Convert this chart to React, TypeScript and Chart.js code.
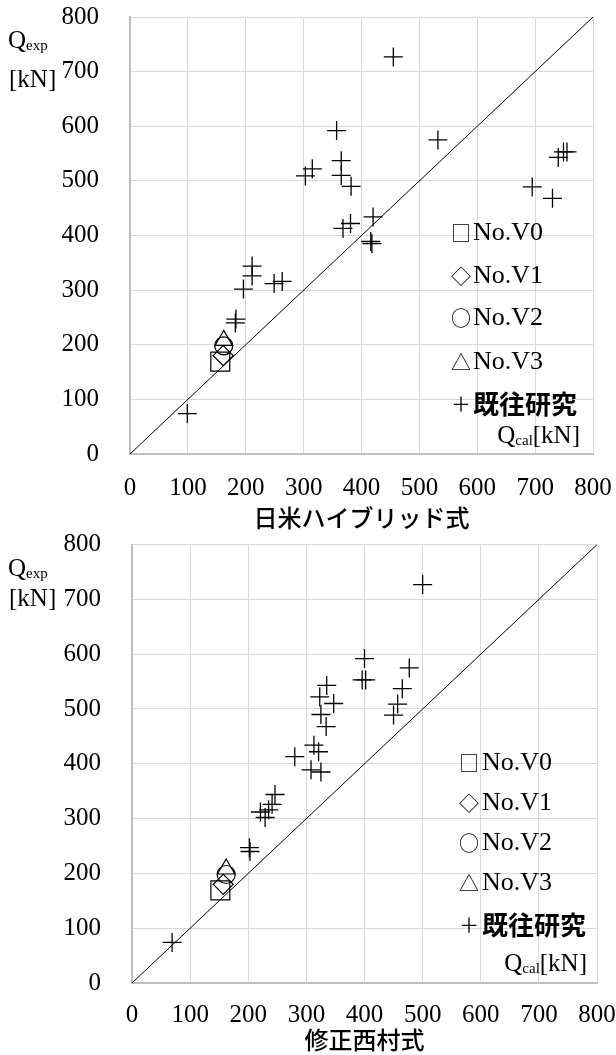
import React, { useEffect, useRef } from "react";
import { Chart, registerables } from "chart.js";
Chart.register(...registerables);

// Experimental shear strength Q_exp [kN] of previous studies (既往研究)
const pastQexp = [74, 247, 240, 302, 344, 326, 312, 316, 509, 522, 592, 537, 510, 490, 413, 422, 434, 389, 385, 727, 575, 489, 468, 543, 553, 553];
// Calculated strength, 日米ハイブリッド式
const pastQcalHybrid = [99, 183, 182, 196, 211, 211, 249, 263, 303, 315, 357, 365, 365, 382, 368, 381, 420, 416, 418, 455, 532, 695, 730, 740, 749, 755];
// Calculated strength, 修正西村式
const pastQcalNishimura = [69, 202, 203, 229, 246, 241, 221, 235, 457, 323, 400, 465, 347, 325, 280, 321, 313, 308, 325, 500, 477, 450, 334, 335, 396, 402];

// Specimens No.V0 - No.V3
const specimenLabels = ["No.V0", "No.V1", "No.V2", "No.V3"];
const specimenSymbols = ["□", "◇", "○", "△"];
const specimenStyles = ["rect", "rectRot", "circle", "triangle"];
const specimenRadius = [13.4, 10, 9, 10];
const specimenQexp = [169, 180, 198, 208];
const specimenQcalHybrid = [156, 161, 162, 162];
const specimenQcalNishimura = [152, 157, 162, 162];

const pastLabel = "既往研究";
const pastSymbol = "＋";
const axisTicks = [0, 100, 200, 300, 400, 500, 600, 700, 800];
const titleHybrid = "日米ハイブリッド式";
const titleNishimura = "修正西村式";

const SERIF = '"Liberation Serif", "Times New Roman", serif';
const GOTHIC = '"Noto Sans CJK JP", "Noto Sans", sans-serif';

type Cfg = {
  top: number;
  height: number;
  area: { left: number; right: number; top: number; bottom: number };
  calX: number[];
  specX: number[];
  title: string;
  titlePad: number;
  xTickPad: number;
  legend: { symX: number; textX: number; rows: number[]; qcalRight: number; qcalBase: number };
  qexp: { qBase: number; knBase: number };
};

function ScatterPanel({ cfg }: { cfg: Cfg }) {
  const ref = useRef<HTMLCanvasElement | null>(null);
  useEffect(() => {
    const canvas = ref.current;
    if (!canvas) return;
    const { area, top, height } = cfg;

    const overlay = {
      id: "overlay",
      afterDraw(chart: any) {
        const ctx = chart.ctx as CanvasRenderingContext2D;
        ctx.save();
        ctx.fillStyle = "#000";
        ctx.textBaseline = "middle";
        ctx.textAlign = "left";
        const L = cfg.legend;
        const syms = [...specimenSymbols, pastSymbol];
        const labels = [...specimenLabels, pastLabel];
        for (let i = 0; i < syms.length; i++) {
          const y = L.rows[i] - top;
          ctx.font = `20px ${GOTHIC}`;
          ctx.fillText(syms[i], L.symX, y);
          ctx.font = i < 4 ? `26px ${SERIF}` : `bold 26px ${GOTHIC}`;
          ctx.fillText(labels[i], L.textX, y);
        }
        // Q_cal[kN]
        ctx.textBaseline = "alphabetic";
        const big = `25px ${SERIF}`;
        const small = `15px ${SERIF}`;
        ctx.font = big;
        const wKN = ctx.measureText("[kN]").width;
        const wQ = ctx.measureText("Q").width;
        ctx.font = small;
        const wCal = ctx.measureText("cal").width;
        let x = L.qcalRight - wKN - wCal - wQ;
        const b = L.qcalBase - top;
        ctx.font = big;
        ctx.fillText("Q", x, b);
        x += wQ;
        ctx.font = small;
        ctx.fillText("cal", x, b + 2);
        x += wCal;
        ctx.font = big;
        ctx.fillText("[kN]", x, b);
        // Q_exp [kN]
        const qb = cfg.qexp.qBase - top;
        ctx.font = big;
        ctx.fillText("Q", 8, qb);
        const wq2 = ctx.measureText("Q").width;
        ctx.font = small;
        ctx.fillText("exp", 8 + wq2, qb + 2);
        ctx.font = big;
        ctx.fillText("[kN]", 9, cfg.qexp.knBase - top);
        ctx.restore();
      },
    };

    const specimenSets = specimenLabels.map((lab, i) => ({
      label: lab,
      data: [{ x: cfg.specX[i], y: specimenQexp[i] }],
      pointStyle: specimenStyles[i],
      pointRadius: specimenRadius[i],
      borderColor: "#000",
      backgroundColor: "rgba(0,0,0,0)",
      borderWidth: 1.2,
    }));

    const chart = new Chart(canvas, {
      type: "scatter",
      data: {
        datasets: [
          {
            label: pastLabel,
            data: cfg.calX.map((v, i) => ({ x: v, y: pastQexp[i] })),
            pointStyle: "cross",
            pointRadius: 9.5,
            borderColor: "#000",
            borderWidth: 1.3,
          },
          ...specimenSets,
          {
            label: "y=x",
            data: [
              { x: axisTicks[0], y: axisTicks[0] },
              { x: axisTicks[axisTicks.length - 1], y: axisTicks[axisTicks.length - 1] },
            ],
            showLine: true,
            pointRadius: 0,
            borderColor: "#000",
            borderWidth: 1,
          },
        ],
      } as any,
      options: {
        responsive: false,
        animation: false,
        devicePixelRatio: 1,
        layout: { padding: { left: 0, right: 616 - area.right, top: area.top - top, bottom: 0 } },
        plugins: { legend: { display: false }, tooltip: { enabled: false } },
        scales: {
          x: {
            type: "linear",
            min: 0,
            max: 800,
            afterBuildTicks: (s: any) => {
              s.ticks = axisTicks.map((v) => ({ value: v }));
            },
            ticks: {
              padding: cfg.xTickPad,
              color: "#000",
              font: { family: SERIF, size: 25 },
              maxRotation: 0,
              autoSkip: false,
            },
            grid: { color: "#d9d9d9", lineWidth: 1, drawTicks: false },
            border: { color: "#bfbfbf", width: 2 },
            title: {
              display: true,
              text: cfg.title,
              color: "#000",
              font: { family: GOTHIC, size: 24, lineHeight: 1, weight: "500" },
              padding: { top: 0, bottom: cfg.titlePad },
            },
            afterFit: (s: any) => {
              s.height = top + height - area.bottom;
              s.paddingLeft = 0;
              s.paddingRight = 0;
            },
          },
          y: {
            type: "linear",
            min: 0,
            max: 800,
            afterBuildTicks: (s: any) => {
              s.ticks = axisTicks.map((v) => ({ value: v }));
            },
            ticks: {
              padding: 31,
              color: "#000",
              font: { family: SERIF, size: 25 },
              autoSkip: false,
            },
            grid: { color: "#d9d9d9", lineWidth: 1, drawTicks: false },
            border: { color: "#bfbfbf", width: 2 },
            afterFit: (s: any) => {
              s.width = area.left;
              s.paddingTop = 0;
              s.paddingBottom = 0;
            },
          },
        },
      } as any,
      plugins: [overlay],
    });
    return () => chart.destroy();
  }, [cfg]);
  return (
    <canvas
      ref={ref}
      width={616}
      height={cfg.height}
      style={{ position: "absolute", left: 0, top: cfg.top, width: 616, height: cfg.height, display: "block" }}
    />
  );
}

const topCfg: Cfg = {
  top: 0,
  height: 530,
  area: { left: 130, right: 593, top: 17, bottom: 454 },
  calX: pastQcalHybrid,
  specX: specimenQcalHybrid,
  title: titleHybrid,
  titlePad: 0,
  xTickPad: 19,
  legend: { symX: 451, textX: 473, rows: [233, 276, 318, 362, 404], qcalRight: 580, qcalBase: 443 },
  qexp: { qBase: 48, knBase: 87 },
};

const bottomCfg: Cfg = {
  top: 530,
  height: 525,
  area: { left: 132, right: 597, top: 542, bottom: 983 },
  calX: pastQcalNishimura,
  specX: specimenQcalNishimura,
  title: titleNishimura,
  titlePad: 3,
  xTickPad: 17,
  legend: { symX: 459, textX: 482, rows: [763, 803, 843, 883, 925], qcalRight: 587, qcalBase: 971 },
  qexp: { qBase: 576, knBase: 606 },
};

export default function App() {
  return (
    <div style={{ position: "absolute", left: 0, top: 0, width: 616, height: 1055, background: "#fff" }}>
      <ScatterPanel cfg={topCfg} />
      <ScatterPanel cfg={bottomCfg} />
    </div>
  );
}
